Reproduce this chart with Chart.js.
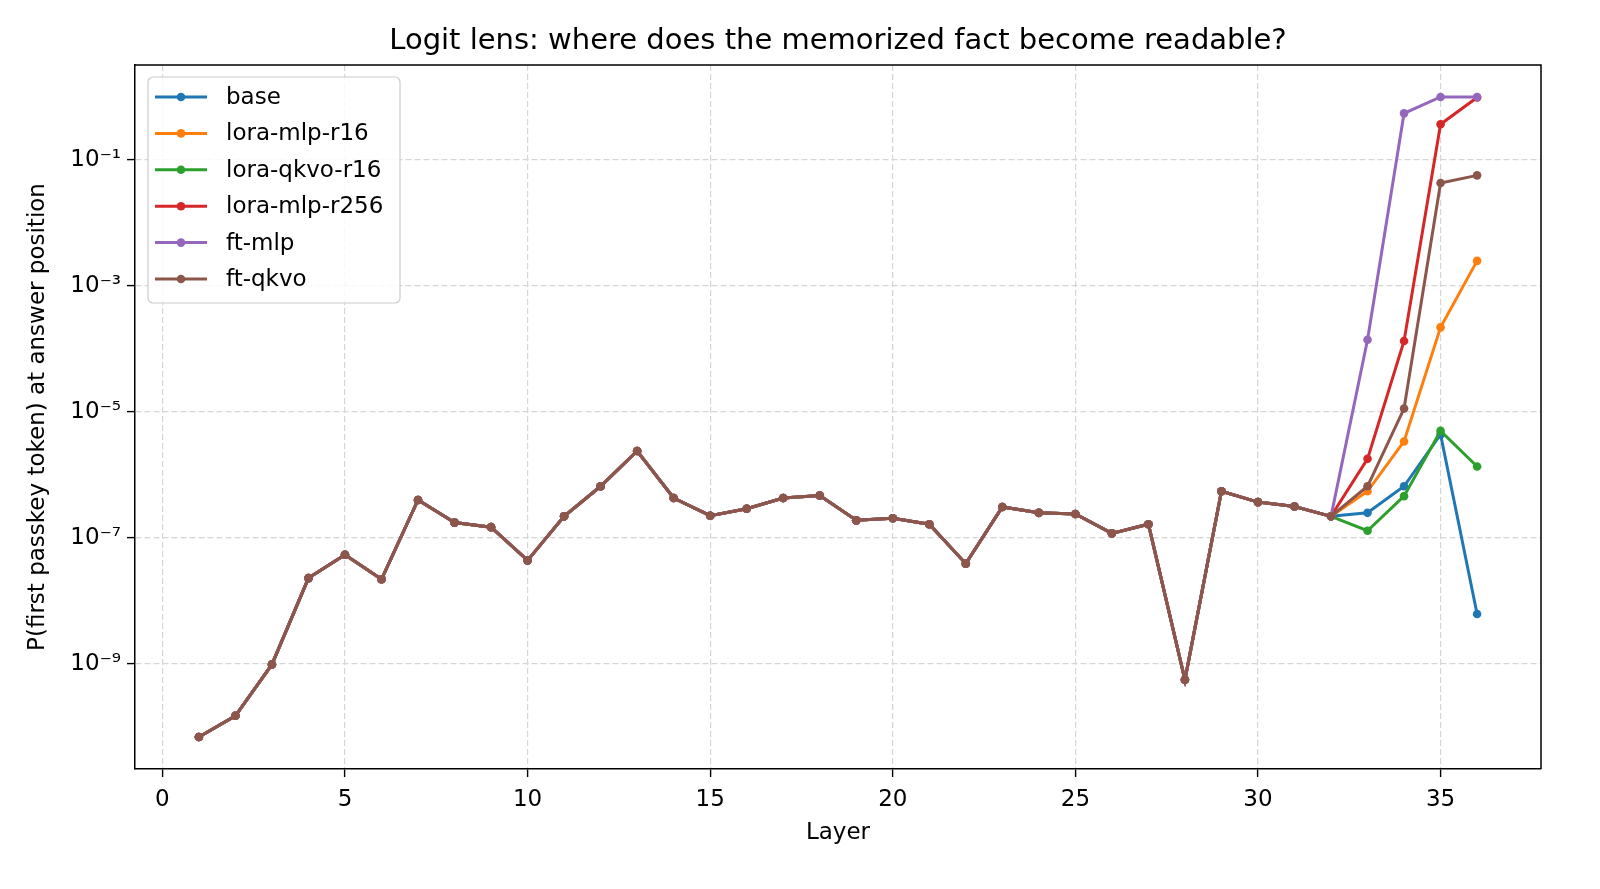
<!DOCTYPE html>
<html>
<head>
<meta charset="utf-8">
<script src="https://cdn.jsdelivr.net/npm/chart.js@4/dist/chart.umd.min.js"></script>
<style>
  html, body { margin: 0; padding: 0; background: #fff; }
  #wrap { width: 1600px; height: 889px; }
</style>
</head>
<body>
<div id="wrap"><canvas id="lensChart" width="1600" height="889"></canvas></div>
<script>
// data
var layers = [1, 2, 3, 4, 5, 6, 7, 8, 9, 10, 11, 12, 13, 14, 15, 16, 17, 18,
              19, 20, 21, 22, 23, 24, 25, 26, 27, 28, 29, 30, 31, 32, 33, 34, 35, 36];

// layers 1-32 are identical for every model
var sharedTrunk = [6.9e-11, 1.5e-10, 9.8e-10, 2.3e-8, 5.4e-8, 2.2e-8, 4.0e-7, 1.75e-7,
                   1.48e-7, 4.4e-8, 2.2e-7, 6.6e-7, 2.4e-6, 4.3e-7, 2.25e-7, 2.9e-7,
                   4.3e-7, 4.7e-7, 1.9e-7, 2.05e-7, 1.65e-7, 3.9e-8, 3.1e-7, 2.5e-7,
                   2.4e-7, 1.18e-7, 1.65e-7, 5.6e-10, 5.5e-7, 3.7e-7, 3.15e-7, 2.2e-7];

// layers 33-36
var baseTail       = [2.5e-7, 6.6e-7, 4.4e-6, 6.2e-9];
var loraMlpR16Tail = [5.5e-7, 3.4e-6, 2.2e-4, 2.5e-3];
var loraQkvoTail   = [1.3e-7, 4.6e-7, 5.0e-6, 1.36e-6];
var loraMlp256Tail = [1.8e-6, 1.34e-4, 0.37, 0.98];
var ftMlpTail      = [1.4e-4, 0.55, 1.0, 1.0];
var ftQkvoTail     = [6.6e-7, 1.13e-5, 0.043, 0.057];

var seriesNames  = ["base", "lora-mlp-r16", "lora-qkvo-r16", "lora-mlp-r256", "ft-mlp", "ft-qkvo"];
var seriesTails  = [baseTail, loraMlpR16Tail, loraQkvoTail, loraMlp256Tail, ftMlpTail, ftQkvoTail];
var seriesColors = ["#1f77b4", "#ff7f0e", "#2ca02c", "#d62728", "#9467bd", "#8c564b"];

var xTicks = [0, 5, 10, 15, 20, 25, 30, 35];
var yTickExponents = [-9, -7, -5, -3, -1];

var titleText = "Logit lens: where does the memorized fact become readable?";
var xTitle = "Layer";
var yTitle = "P(first passkey token) at answer position";

var FONT = "'DejaVu Sans', 'Liberation Sans', sans-serif";
Chart.defaults.font.family = FONT;
Chart.defaults.color = "#000";

var sup = { "-": "\u207b", "0": "\u2070", "1": "\u00b9", "2": "\u00b2", "3": "\u00b3",
            "4": "\u2074", "5": "\u2075", "6": "\u2076", "7": "\u2077", "8": "\u2078", "9": "\u2079" };
function powLabel(v) {
  var e = String(Math.round(Math.log10(v)));
  return "10" + e.split("").map(function (c) { return sup[c]; }).join("");
}

var datasets = seriesNames.map(function (name, i) {
  var vals = sharedTrunk.concat(seriesTails[i]);
  return {
    label: name,
    data: layers.map(function (l, j) { return { x: l, y: vals[j] }; }),
    borderColor: seriesColors[i],
    backgroundColor: seriesColors[i],
    borderWidth: 3,
    pointRadius: 4.3,
    pointBorderWidth: 0,
    pointBackgroundColor: seriesColors[i],
    tension: 0,
    order: seriesNames.length - i   // later series on top, like matplotlib
  };
});

// matplotlib style 5% margins
var allVals = [];
datasets.forEach(function (d) { d.data.forEach(function (p) { allVals.push(Math.log10(p.y)); }); });
var lo = Math.min.apply(null, allVals), hi = Math.max.apply(null, allVals);
var yPad = (hi - lo) * 0.05;
var xPad = (layers[layers.length - 1] - layers[0]) * 0.05;

var framePlugin = {
  id: "frame",
  afterDraw: function (chart) {
    var c = chart.ctx, a = chart.chartArea;
    c.save();
    // top and right spines
    c.strokeStyle = "#000";
    c.lineWidth = 1.5;
    c.beginPath();
    c.moveTo(a.left, a.top); c.lineTo(a.right, a.top); c.lineTo(a.right, a.bottom);
    c.stroke();

    // title
    c.fillStyle = "#000";
    c.font = "29px " + FONT;
    c.textAlign = "center";
    c.textBaseline = "middle";
    c.fillText(titleText, (a.left + a.right) / 2, 41);

    // legend box in upper left
    var bx = a.left + 13, by = a.top + 12, bw = 252, bh = 226;
    c.fillStyle = "rgba(255,255,255,0.85)";
    c.strokeStyle = "#cccccc";
    c.lineWidth = 1.2;
    c.beginPath();
    c.roundRect(bx, by, bw, bh, 5);
    c.fill();
    c.stroke();

    c.font = "23px " + FONT;
    c.textAlign = "left";
    seriesNames.forEach(function (name, i) {
      var y = by + 20 + i * 36.4;
      c.strokeStyle = seriesColors[i];
      c.lineWidth = 3;
      c.beginPath();
      c.moveTo(bx + 7, y); c.lineTo(bx + 59, y);
      c.stroke();
      c.fillStyle = seriesColors[i];
      c.beginPath();
      c.arc(bx + 33, y, 4.3, 0, Math.PI * 2);
      c.fill();
      c.fillStyle = "#000";
      c.fillText(name, bx + 78, y + 1);
    });
    c.restore();
  }
};

var gridStyle = {
  color: "#d6d6d6",
  lineWidth: 1.2,
  drawTicks: true,
  tickLength: 8,
  tickColor: "#000",
  tickWidth: 1.4,
  tickBorderDash: []
};
var borderStyle = { display: true, color: "#000", width: 1.5, dash: [6, 3] };

var myChart = new Chart(document.getElementById("lensChart").getContext("2d"), {
  type: "line",
  data: { datasets: datasets },
  plugins: [framePlugin],
  options: {
    responsive: false,
    animation: false,
    devicePixelRatio: 1,
    layout: { padding: { left: 0, top: 65, right: 59, bottom: 0 } },
    plugins: {
      legend: { display: false },
      title: { display: false },
      tooltip: { enabled: false }
    },
    scales: {
      x: {
        type: "linear",
        min: layers[0] - xPad,
        max: layers[layers.length - 1] + xPad,
        afterBuildTicks: function (s) { s.ticks = xTicks.map(function (v) { return { value: v }; }); },
        afterFit: function (s) { s.height = 120; },
        ticks: { font: { size: 23 }, padding: 9, maxRotation: 0, autoSkip: false,
                 callback: function (v) { return String(v); } },
        grid: gridStyle,
        border: borderStyle,
        title: { display: true, text: xTitle, font: { size: 23 }, padding: { top: 0, bottom: 42 } }
      },
      y: {
        type: "logarithmic",
        min: Math.pow(10, lo - yPad),
        max: Math.pow(10, hi + yPad),
        afterBuildTicks: function (s) {
          s.ticks = yTickExponents.map(function (e) { return { value: Math.pow(10, e) }; });
        },
        afterFit: function (s) { s.width = 135; },
        ticks: { font: { size: 23 }, padding: 6, autoSkip: false,
                 callback: function (v) { return powLabel(v); } },
        grid: gridStyle,
        border: borderStyle,
        title: { display: true, text: yTitle, font: { size: 23 }, padding: { top: 24, bottom: 0 } }
      }
    }
  }
});
</script>
</body>
</html>
